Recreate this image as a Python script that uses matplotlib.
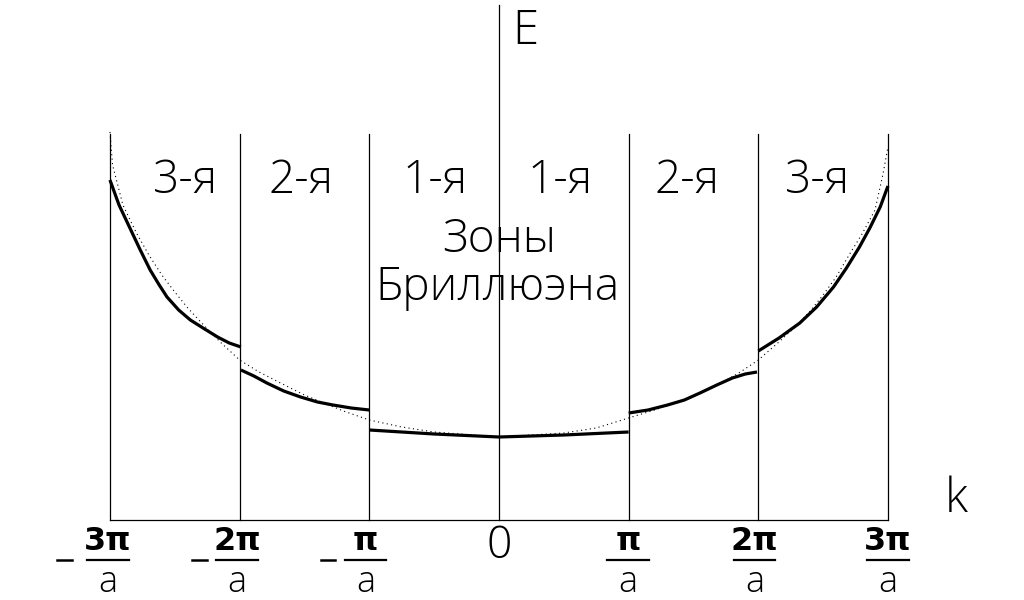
import numpy as np
import matplotlib
matplotlib.use('Agg')
import matplotlib.pyplot as plt

# wave number k in units of pi/a, energy E in arbitrary units
zone_edges = [-3, -2, -1, 1, 2, 3]
zone_top = 3.86
axis_top = 5.15

# free electron curve (dotted)
free_k = [-3.0, -2.98, -2.9, -2.8, -2.7, -2.6, -2.5, -2.4, -2.3, -2.15, -2.0, -1.85, -1.7, -1.5,
          -1.2, -1.0, -0.75, -0.5, 0.0, 0.5, 0.75, 1.0, 1.2, 1.5, 1.7, 1.85, 2.0, 2.15, 2.3,
          2.4, 2.5, 2.6, 2.7, 2.8, 2.9, 2.96, 3.0]
free_E = [3.88, 3.55, 3.15, 2.88, 2.65, 2.45, 2.28, 2.12, 1.98, 1.78, 1.60, 1.48, 1.38, 1.25,
          1.09, 1.00, 0.93, 0.88, 0.83, 0.87, 0.92, 1.02, 1.10, 1.24, 1.36, 1.47, 1.60, 1.77, 1.95,
          2.09, 2.25, 2.43, 2.65, 2.86, 3.10, 3.45, 3.73]

# band segments (solid)
band3_left_k = [-3.0, -2.93, -2.85, -2.77, -2.69, -2.62, -2.56, -2.47, -2.38, -2.27, -2.17, -2.08, -1.99]
band3_left_E = [3.40, 3.15, 2.93, 2.71, 2.50, 2.35, 2.23, 2.10, 2.00, 1.91, 1.83, 1.77, 1.73]
band2_left_k = [-1.99, -1.89, -1.79, -1.66, -1.53, -1.40, -1.28, -1.14, -1.0]
band2_left_E = [1.50, 1.44, 1.37, 1.29, 1.23, 1.18, 1.15, 1.12, 1.10]
band1_k = [-1.0, -0.5, 0.0, 0.5, 1.0]
band1_E = [0.90, 0.86, 0.83, 0.85, 0.88]
band2_right_k = [1.0, 1.15, 1.30, 1.43, 1.55, 1.68, 1.80, 1.90, 1.99]
band2_right_E = [1.07, 1.10, 1.15, 1.20, 1.27, 1.35, 1.42, 1.46, 1.48]
band3_right_k = [2.0, 2.16, 2.32, 2.45, 2.58, 2.68, 2.78, 2.86, 2.94, 3.0]
band3_right_E = [1.69, 1.82, 1.97, 2.13, 2.33, 2.52, 2.73, 2.92, 3.13, 3.34]

zone_names = ['3-я', '2-я', '1-я', '1-я', '2-я', '3-я']
zone_name_k = [-2.42, -1.53, -0.49, 0.47, 1.45, 2.46]

tick_k = [-3, -2, -1, 0, 1, 2, 3]
tick_num = ['3π', '2π', 'π', '0', 'π', '2π', '3π']
tick_pos = [-3.015, -2.02, -1.03, 0.0, 0.995, 1.97, 3.0]
minus_pos = [-3.35, -2.31, -1.32]

fig = plt.figure(figsize=(10.24, 6), dpi=100)
ax = fig.add_axes([0, 0, 1, 1])
ax.set_xlim(-3.848, 4.049)
ax.set_ylim(-0.8, 5.2)
ax.axis('off')

font = ['Open Sans', 'DejaVu Sans']

# axes and zone boundaries
ax.plot([-3, 3], [0, 0], color='black', lw=0.9)
ax.plot([0, 0], [0, axis_top], color='black', lw=0.9)
for k in zone_edges:
    ax.plot([k, k], [0, zone_top], color='black', lw=0.9)

ax.plot(free_k, free_E, color='black', lw=0.8, linestyle=(0, (1, 3)))
for kk, ee in [(band3_left_k, band3_left_E), (band2_left_k, band2_left_E), (band1_k, band1_E),
               (band2_right_k, band2_right_E), (band3_right_k, band3_right_E)]:
    ax.plot(kk, ee, color='black', lw=2.3, solid_capstyle='butt', solid_joinstyle='round')

for name, k in zip(zone_names, zone_name_k):
    ax.text(k, 3.39, name, ha='center', va='center', fontsize=33, family=font, fontweight='light')
ax.text(0, 2.80, 'Зоны', ha='center', va='center', fontsize=33, family=font, fontweight='light')
ax.text(-0.015, 2.32, 'Бриллюэна', ha='center', va='center', fontsize=33, family=font, fontweight='light')
ax.text(0.20, 4.88, 'E', ha='center', va='center', fontsize=34, family=font, fontweight='light')
ax.text(3.53, 0.20, 'k', ha='center', va='center', fontsize=34, family=font, fontweight='light')

# tick labels as fractions
for k, num, x in zip(tick_k, tick_num, tick_pos):
    if k == 0:
        ax.text(x, -0.27, num, ha='center', va='center', fontsize=32, family=font, fontweight='light')
        continue
    ax.text(x, -0.21, num, ha='center', va='center', fontsize=23, fontweight='bold')
    ax.plot([x - 0.16, x + 0.16], [-0.40, -0.40], color='black', lw=1.6)
    ax.text(x, -0.63, 'a', ha='center', va='center', fontsize=26, family=font, fontweight='light')
for x in minus_pos:
    ax.plot([x - 0.055, x + 0.055], [-0.40, -0.40], color='black', lw=1.8)

fig.savefig('out.png', dpi=100, facecolor='white')
